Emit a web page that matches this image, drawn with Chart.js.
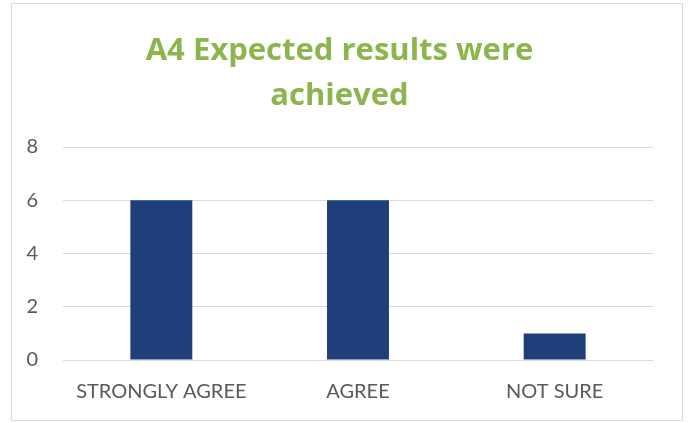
<!DOCTYPE html>
<html>
<head>
<meta charset="utf-8">
<script src="https://cdn.jsdelivr.net/npm/chart.js@4/dist/chart.umd.min.js"></script>
<style>
  html, body { margin: 0; padding: 0; background: #fff; }
  #box {
    position: absolute; left: 11px; top: 3px;
    width: 670px; height: 416px;
    border: 1px solid #d9d9d9;
  }
  canvas { display: block; }
</style>
</head>
<body>
<div id="box"><canvas id="grafico" width="670" height="416"></canvas></div>
<script>
// --- dati ---
const categorie = ["STRONGLY AGREE", "AGREE", "NOT SURE"];
const valori = [6, 6, 1];
const titolo = ["A4 Expected results were", "achieved"];

const grigio = '#595959';

new Chart(document.getElementById('grafico'), {
  type: 'bar',
  data: {
    labels: categorie,
    datasets: [{
      data: valori,
      backgroundColor: '#1f3f7a',
      categoryPercentage: 1,
      barPercentage: 0.315
    }]
  },
  options: {
    responsive: false,
    animation: false,
    layout: { padding: { left: 14, right: 29, top: 0, bottom: 20 } },
    plugins: {
      legend: { display: false },
      tooltip: { enabled: false },
      title: {
        display: true,
        text: titolo,
        color: '#8db54e',
        font: { family: 'Open Sans', size: 31, weight: 'bold', lineHeight: 45 / 31 },
        padding: { top: 25, bottom: 28 }
      }
    },
    scales: {
      x: {
        afterFit: s => { s.height = 40; },
        grid: { display: false, drawTicks: false },
        border: { display: false },
        ticks: { color: grigio, font: { family: 'Lato', size: 20 }, padding: 20, maxRotation: 0 }
      },
      y: {
        min: 0, max: 8,
        afterFit: s => { s.width = 37; },
        grid: { color: '#d9d9d9', drawTicks: false },
        border: { display: false },
        ticks: { stepSize: 2, color: grigio, font: { family: 'Lato', size: 20 }, padding: 25 }
      }
    }
  }
});
</script>
</body>
</html>
